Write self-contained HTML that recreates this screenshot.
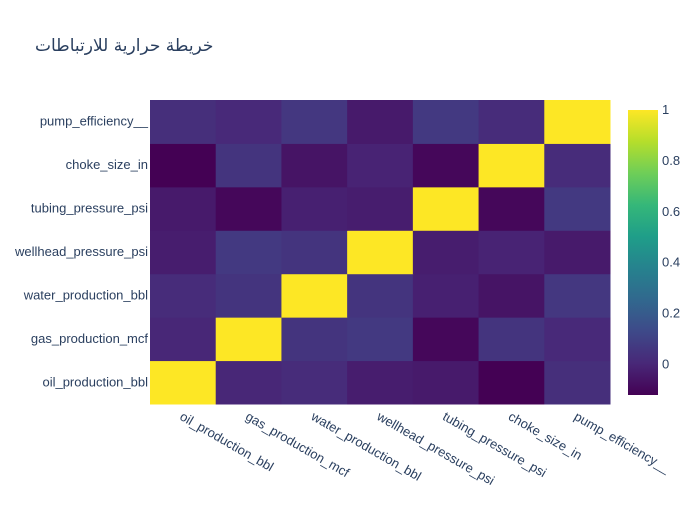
<!DOCTYPE html>
<html><head><meta charset="utf-8"><style>
body{margin:0;background:#fff}
svg text{font-family:"Liberation Sans","DejaVu Sans",sans-serif;fill:#2a3f5f}
</style></head><body>
<svg id="chart" width="700" height="500">
<text x="35" y="51" style="font-size:17px;font-family:'DejaVu Sans','Liberation Sans',sans-serif">خريطة حرارية للارتباطات</text>
<g id="cells"></g>
<g id="ylabels"></g>
<g id="xlabels"></g>
<defs><linearGradient id="vg" x1="0" y1="1" x2="0" y2="0"></linearGradient></defs>
<rect x="628" y="110" width="30" height="285" fill="url(#vg)"/>
<g id="cbticks"></g>
</svg>
<script>
const labels=["oil_production_bbl","gas_production_mcf","water_production_bbl","wellhead_pressure_psi","tubing_pressure_psi","choke_size_in","pump_efficiency__"];
const corr=[
[1,0.0,0.02,-0.03,-0.04,-0.12,0.03],
[0.0,1,0.05,0.07,-0.1,0.05,0.01],
[0.02,0.05,1,0.05,-0.02,-0.06,0.06],
[-0.03,0.07,0.05,1,-0.03,-0.01,-0.04],
[-0.04,-0.1,-0.02,-0.03,1,-0.1,0.07],
[-0.12,0.05,-0.06,-0.01,-0.1,1,0.02],
[0.03,0.01,0.06,-0.04,0.07,0.02,1]];
const cbTicks=[0,0.2,0.4,0.6,0.8,1];
const zmin=-0.12,zmax=1;
const vir=["#440154","#482878","#3e4989","#31688e","#26828e","#1f9e89","#35b779","#6ece58","#b5de2b","#fde725"];
function hex(h){return[1,3,5].map(i=>parseInt(h.substr(i,2),16));}
function color(v){let t=(v-zmin)/(zmax-zmin);t=Math.max(0,Math.min(1,t));const p=t*(vir.length-1),i=Math.min(Math.floor(p),vir.length-2),f=p-i;const a=hex(vir[i]),b=hex(vir[i+1]);return"rgb("+a.map((c,k)=>Math.round(c+(b[k]-c)*f)).join(",")+")";}
const X0=150,X1=610,Y0=100,Y1=404,n=labels.length,cw=(X1-X0)/n,ch=(Y1-Y0)/n;
const xs=i=>X0+i*cw, ys=j=>Y1-(j+1)*ch;
const NS="http://www.w3.org/2000/svg";
const cells=document.getElementById("cells");
corr.forEach((row,j)=>row.forEach((v,i)=>{const r=document.createElementNS(NS,"rect");
r.setAttribute("x",xs(i));r.setAttribute("y",ys(j));r.setAttribute("width",cw+0.5);r.setAttribute("height",ch+0.5);r.setAttribute("fill",color(v));


cells.appendChild(r);}));
const yl=document.getElementById("ylabels"),xl=document.getElementById("xlabels");
labels.forEach((l,j)=>{const t=document.createElementNS(NS,"text");t.setAttribute("x",148);t.setAttribute("y",ys(j)+ch/2+4);t.setAttribute("text-anchor","end");t.setAttribute("font-size","13");t.textContent=l;


yl.appendChild(t);
const u=document.createElementNS(NS,"text");const cx=xs(j)+cw/2-4,cy=419;u.setAttribute("x",cx);u.setAttribute("y",cy);u.setAttribute("font-size","13");u.setAttribute("transform","rotate(30 "+cx+" "+cy+")");u.textContent=l;


xl.appendChild(u);});
const g=document.getElementById("vg");
vir.forEach((c,i)=>{const s=document.createElementNS(NS,"stop");s.setAttribute("offset",i/(vir.length-1));s.setAttribute("stop-color",c);g.appendChild(s);});
const cbt=document.getElementById("cbticks");
cbTicks.forEach(v=>{const y=395-(v-zmin)/(zmax-zmin)*285;const t=document.createElementNS(NS,"text");t.setAttribute("x",662);t.setAttribute("y",y+4);t.setAttribute("font-size","13");t.textContent=String(v);


cbt.appendChild(t);});
</script>
</body></html>
